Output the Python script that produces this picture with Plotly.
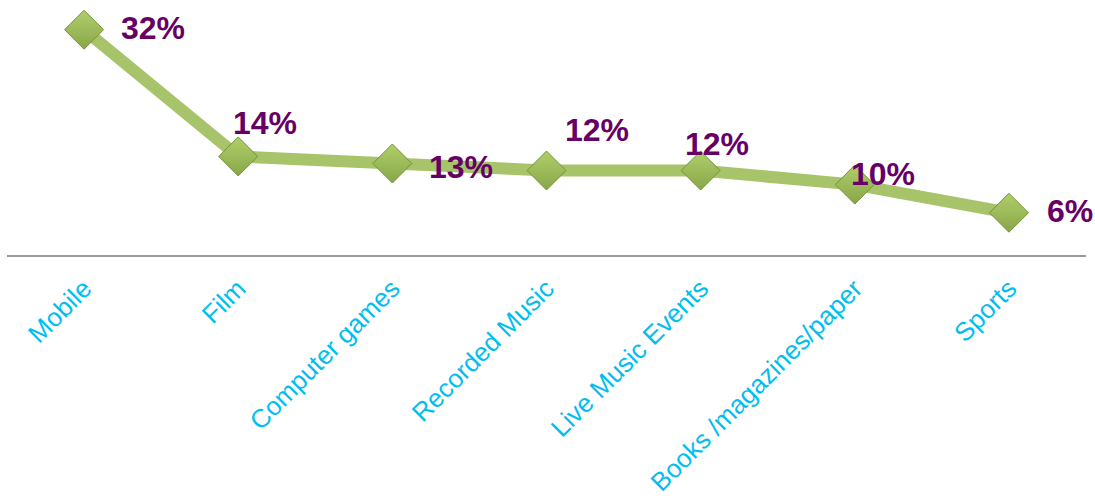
import plotly.graph_objects as go

categories = [
    "Mobile",
    "Film",
    "Computer games",
    "Recorded Music",
    "Live Music Events",
    "Books /magazines/paper",
    "Sports",
]
shares = [32, 14, 13, 12, 12, 10, 6]
labels = ["32%", "14%", "13%", "12%", "12%", "10%", "6%"]

# pixel offsets of each value label from its marker
label_dx = [69, 27, 69, 50, 16, 28, 61]
label_dy = [2, 33, -4, 41, 27, 11, 2]

fig = go.Figure()

fig.add_trace(
    go.Scatter(
        x=categories,
        y=shares,
        mode="lines+markers",
        line=dict(color="#A8C46A", width=12),
        marker=dict(
            symbol="diamond",
            size=30,
            color="#B0CF6A",
            gradient=dict(type="vertical", color="#88A648"),
            line=dict(color="#75913C", width=1),
        ),
        hoverinfo="x+y",
    )
)

for cat, val, txt, dx, dy in zip(categories, shares, labels, label_dx, label_dy):
    fig.add_annotation(
        x=cat,
        y=val,
        text=txt,
        showarrow=False,
        xanchor="center",
        yanchor="middle",
        xshift=dx,
        yshift=dy,
        font=dict(family="Liberation Sans, Arial", size=32, color="#660066", weight="bold"),
    )

fig.update_layout(
    width=1095,
    height=498,
    margin=dict(l=7, r=9, t=10, b=243),
    paper_bgcolor="white",
    plot_bgcolor="white",
    showlegend=False,
    xaxis=dict(
        automargin=False,
        range=[-0.5, len(categories) - 0.5],
        showline=True,
        linecolor="#9A9A9A",
        linewidth=2,
        showgrid=False,
        zeroline=False,
        ticks="",
        tickangle=-45,
        ticklabelstandoff=6,
        tickfont=dict(family="Liberation Sans, Arial", size=26, color="#00BEF0"),
    ),
    yaxis=dict(
        automargin=False,
        range=[0, 34.8],
        visible=False,
        showgrid=False,
        zeroline=False,
    ),
)

# drop the browser's default page margin so the chart sits at the window edge
fig.write_html(
    "out.html",
    config={"displayModeBar": False},
    post_script="document.body.style.margin='0';",
)
